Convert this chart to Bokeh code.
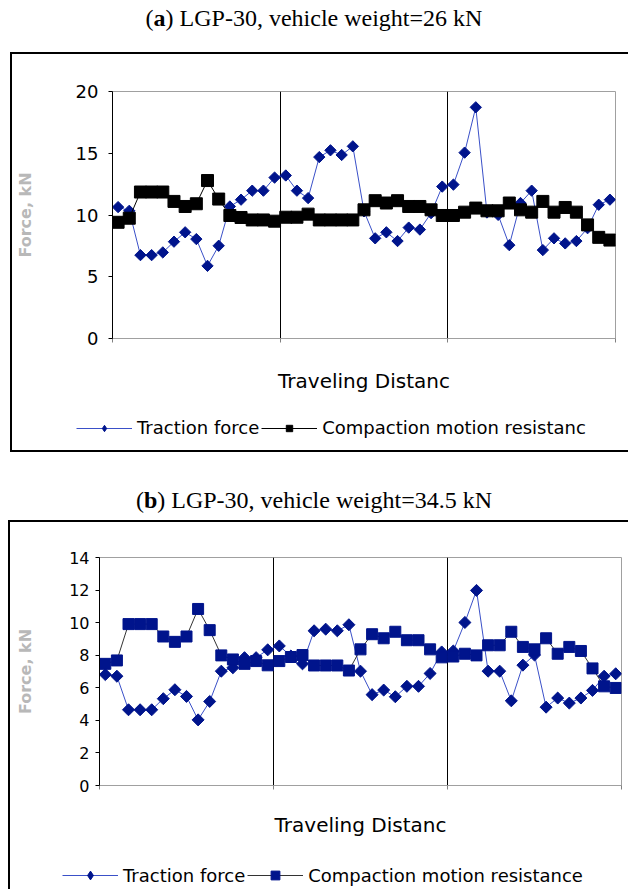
import numpy as np
from bokeh.plotting import figure
from bokeh.models import Div, Legend, LegendItem, FixedTicker, Range1d, ColumnDataSource
from bokeh.layouts import column
from bokeh.embed import file_html
from bokeh.resources import INLINE

# ---------------- data ----------------
sample = list(range(1, 46))   # 45 measurement points along the travel distance

traction_a = [10.64, 10.34, 6.75, 6.75, 6.97, 7.84, 8.60, 8.05, 5.88, 7.51,
              10.69, 11.24, 11.97, 11.97, 13.03, 13.20, 11.97, 11.37, 14.69, 15.24,
              14.86, 15.56, 10.30, 8.11, 8.60, 7.89, 8.98, 8.82, 10.15, 12.30,
              12.46, 15.05, 18.72, 10.20, 10.01, 7.56, 10.97, 11.97, 7.16, 8.11,
              7.70, 7.89, 8.93, 10.83, 11.24]
compaction_a = [9.41, 9.74, 11.86, 11.86, 11.86, 11.10, 10.69, 10.91, 12.79, 11.29,
                9.96, 9.80, 9.60, 9.60, 9.50, 9.82, 9.82, 10.07, 9.60, 9.60,
                9.60, 9.60, 10.42, 11.16, 10.97, 11.16, 10.69, 10.69, 10.42, 9.96,
                9.96, 10.23, 10.56, 10.34, 10.34, 10.97, 10.42, 10.23, 11.10, 10.23,
                10.61, 10.23, 9.20, 8.19, 7.97]

traction_b = [6.81, 6.71, 4.65, 4.65, 4.65, 5.33, 5.88, 5.47, 4.03, 5.16,
              7.02, 7.23, 7.85, 7.85, 8.33, 8.57, 7.95, 7.47, 9.50, 9.60,
              9.50, 9.87, 7.02, 5.58, 5.86, 5.45, 6.09, 6.09, 6.88, 8.20,
              8.26, 10.01, 11.98, 7.02, 7.02, 5.20, 7.39, 8.01, 4.81, 5.37,
              5.06, 5.37, 5.84, 6.71, 6.86]
compaction_b = [7.47, 7.68, 9.91, 9.91, 9.91, 9.15, 8.82, 9.15, 10.84, 9.54,
                7.99, 7.74, 7.47, 7.64, 7.38, 7.64, 7.89, 8.01, 7.37, 7.37,
                7.37, 7.06, 8.36, 9.29, 9.04, 9.44, 8.92, 8.92, 8.36, 7.87,
                7.92, 8.09, 7.99, 8.61, 8.61, 9.44, 8.51, 8.36, 9.04, 8.09,
                8.51, 8.26, 7.19, 6.09, 5.99]

yticks_a = [0, 5, 10, 15, 20]
yticks_b = [0, 2, 4, 6, 8, 10, 12, 14]
section_bounds = [15, 30]

title_a = "LGP-30, vehicle weight=26 kN"
title_b = "LGP-30, vehicle weight=34.5 kN"
x_label = "Traveling Distanc"
y_label = "Force, kN"
legend_labels_a = ["Traction force", "Compaction motion resistanc"]
legend_labels_b = ["Traction force", "Compaction motion resistance"]

NAVY = "#00148c"
TLINE = "#3a50c8"
SANS = "DejaVu Sans"

xpos = np.array(sample) - 0.5


def make_panel(trac, comp, yticks, label_size, comp_color, comp_line,
               width, height, left_margin, mb_left, mb_right, mb_top, mb_bottom, borders,
               tick_standoff, ylabel_standoff, xlabel_standoff, diamond_size, square_size):
    p = figure(width=width, height=height,
               x_range=Range1d(0, len(sample)), y_range=Range1d(yticks[0], yticks[-1]),
               output_backend="svg", toolbar_location=None,
               min_border_left=mb_left, min_border_right=mb_right,
               min_border_top=mb_top, min_border_bottom=mb_bottom,
               margin=(0, 0, 0, left_margin), styles=borders, frame_align=False)
    p.background_fill_color = "white"
    p.border_fill_color = "white"
    p.outline_line_color = "#a0a0a0"
    p.outline_line_width = 1

    p.ygrid.visible = False
    p.xgrid.ticker = FixedTicker(ticks=section_bounds)
    p.xgrid.grid_line_color = "black"
    p.xgrid.grid_line_width = 1

    ya = p.yaxis[0]
    ya.ticker = FixedTicker(ticks=yticks)
    ya.major_tick_out = 4
    ya.major_tick_in = 0
    ya.minor_tick_line_color = None
    ya.axis_line_color = "black"
    ya.major_tick_line_color = "black"
    ya.major_label_text_font = SANS
    ya.major_label_text_font_size = label_size
    ya.major_label_text_color = "black"
    ya.major_label_standoff = tick_standoff
    ya.axis_label = y_label
    ya.axis_label_text_font = SANS
    ya.axis_label_text_font_style = "bold"
    ya.axis_label_text_font_size = "16px"
    ya.axis_label_text_color = "#b8b8b8"
    ya.axis_label_standoff = ylabel_standoff

    xa = p.xaxis[0]
    xa.ticker = FixedTicker(ticks=[0] + section_bounds + [len(sample)])
    xa.major_label_text_color = None
    xa.major_label_text_font_size = "11px"
    xa.major_label_standoff = 0
    xa.major_tick_out = 4
    xa.major_tick_in = 0
    xa.minor_tick_line_color = None
    xa.axis_line_color = "#a0a0a0"
    xa.major_tick_line_color = "#808080"
    xa.axis_label = x_label
    xa.axis_label_text_font = SANS
    xa.axis_label_text_font_style = "normal"
    xa.axis_label_text_font_size = "20px"
    xa.axis_label_text_color = "black"
    xa.axis_label_standoff = xlabel_standoff

    p.line(xpos, trac, line_color=TLINE, line_width=1)
    p.scatter(xpos, trac, marker="square", size=diamond_size, angle=np.pi / 4,
              fill_color=NAVY, line_color=NAVY)
    p.line(xpos, comp, line_color=comp_line, line_width=1)
    p.scatter(xpos, comp, marker="square", size=square_size,
              fill_color=comp_color, line_color=comp_color)
    return p


def make_legend(trac, comp, labels, comp_color, comp_line, width, height, left_margin,
                borders, loc, gh, font_size):
    # A strip holding only the key; its y range lies outside the data,
    # so the series feed the legend keys without being drawn twice.
    q = figure(width=width, height=height, x_axis_type=None, y_axis_type=None,
               x_range=Range1d(0, len(sample)), y_range=Range1d(-2, -1),
               output_backend="svg", toolbar_location=None, min_border=0,
               min_border_left=0, min_border_right=0, min_border_top=0,
               min_border_bottom=0, frame_align=False,
               margin=(0, 0, 0, left_margin), styles=borders)
    q.outline_line_color = None
    q.grid.visible = False
    src = ColumnDataSource(dict(x=xpos, t=trac, c=comp))
    lt = q.line("x", "t", source=src, line_color=TLINE, line_width=1)
    st = q.scatter("x", "t", source=src, marker="diamond", size=10,
                   fill_color=NAVY, line_color=NAVY)
    lc = q.line("x", "c", source=src, line_color=comp_line, line_width=1)
    sc = q.scatter("x", "c", source=src, marker="square", size=10,
                   fill_color=comp_color, line_color=comp_color)
    leg = Legend(items=[LegendItem(label=labels[0], renderers=[lt, st]),
                        LegendItem(label=labels[1], renderers=[lc, sc])],
                 orientation="horizontal", location=loc,
                 glyph_width=56, glyph_height=gh, label_standoff=5, spacing=2,
                 padding=0, margin=0, border_line_alpha=0, background_fill_alpha=0,
                 label_text_font=SANS, label_text_font_size=font_size,
                 label_text_color="black")
    q.add_layout(leg)
    return q


pa = make_panel(traction_a, compaction_a, yticks_a, "18px", "black", "black",
                618, 353, 10, 100, 15, 37, 69,
                {"border-top": "2px solid black", "border-left": "2px solid black"},
                10, 38, 26, 8, 12)
la = make_legend(traction_a, compaction_a, legend_labels_a, "black", "black",
                 618, 47, 10,
                 {"border-left": "2px solid black", "border-bottom": "2px solid black"},
                 (64, 14), 16, "18px")

pb = make_panel(traction_b, compaction_b, yticks_b, "16px", NAVY, "#333333",
                620, 330, 8, 89, 9, 35, 67,
                {"border-top": "2px solid black", "border-left": "2px solid black"},
                6, 31, 23, 8.5, 11)
lb = make_legend(traction_b, compaction_b, legend_labels_b, NAVY, "#333333",
                 620, 39, 8, {"border-left": "2px solid black"},
                 (52, 3), 22, "18px")


def title_div(letter, text, pad, h):
    html = ('<div style="width:628px;text-align:center;font-family:\'Liberation Serif\',serif;'
            'font-size:24px;padding-top:%dpx;color:black">(<b>%s</b>) %s</div>'
            % (pad, letter, text))
    return Div(text=html, width=628, height=h, margin=(0, 0, 0, 0))


layout = column(title_div("a", title_a, 1, 52), pa, la,
                title_div("b", title_b, 31, 68), pb, lb, spacing=0)

open("out.html", "w").write(file_html(layout, INLINE))
